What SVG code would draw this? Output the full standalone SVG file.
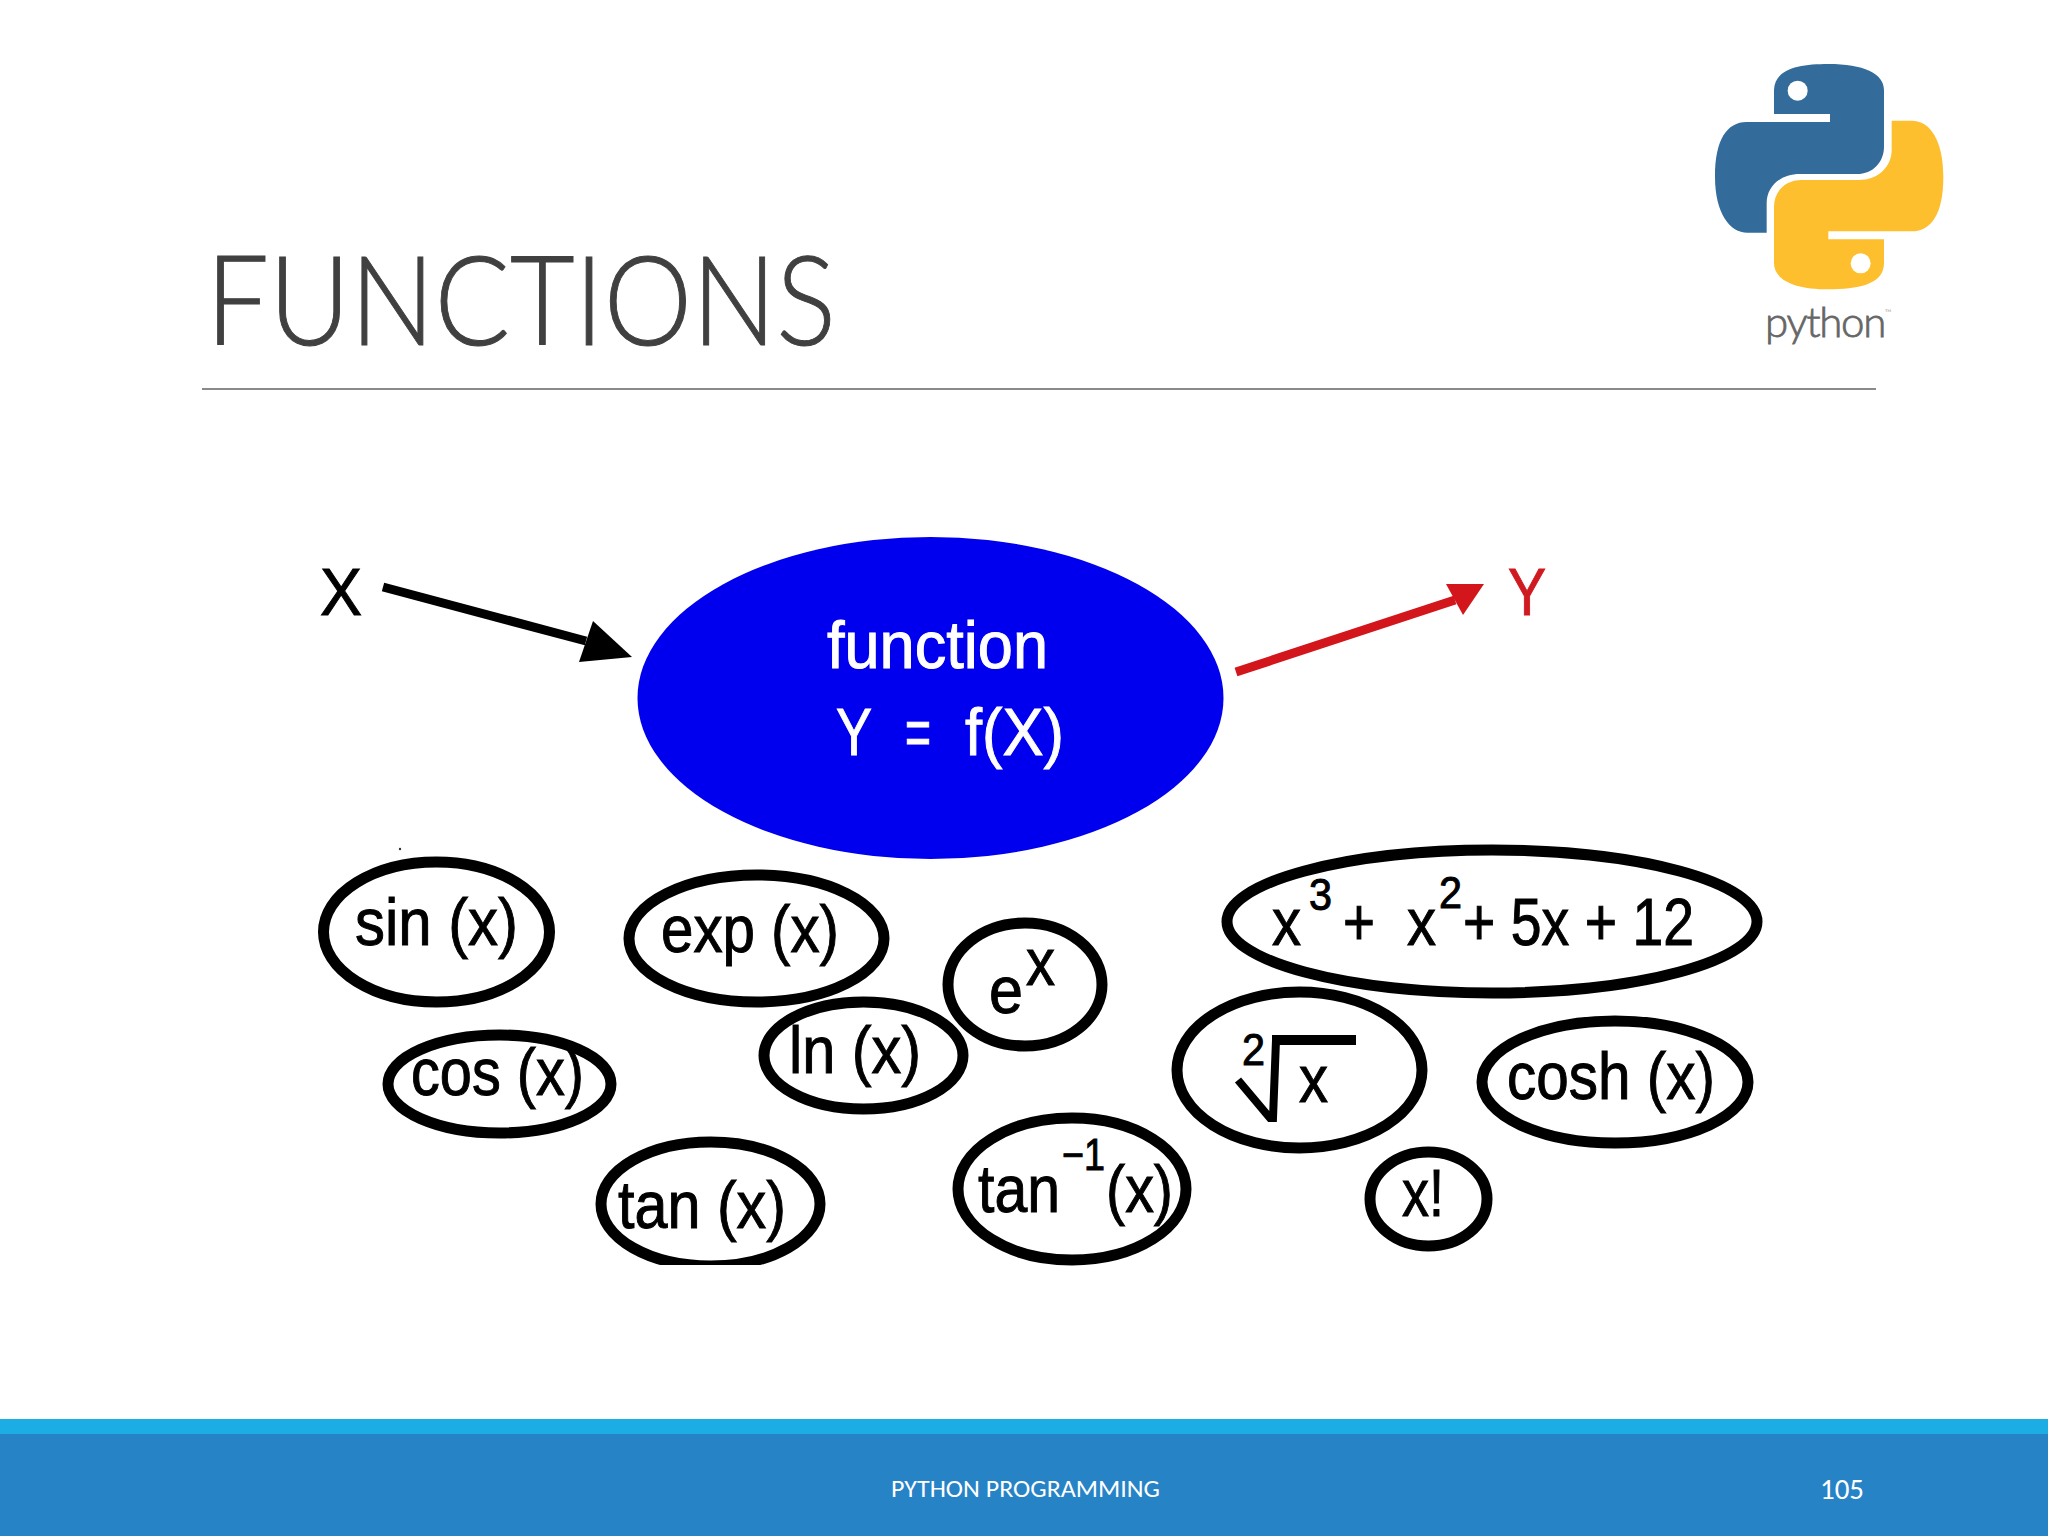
<svg xmlns="http://www.w3.org/2000/svg" width="2048" height="1536" viewBox="0 0 2048 1536">
<style>
.t{font-family:"Liberation Sans",Arial,sans-serif;font-size:66px;fill:#000;stroke:#000;stroke-width:1px}
.w{fill:#fff;stroke:#fff}
.r{fill:#cf1a20;stroke:#cf1a20}
.s{font-size:45px}
.o{fill:#fff;stroke:#000;stroke-width:11px}
.f{font-family:"Carlito","Lato","Noto Sans",sans-serif;fill:#fff}
</style>
<defs>
<marker id="headK" markerUnits="userSpaceOnUse" markerWidth="60" markerHeight="50" refX="0" refY="0" overflow="visible"><polygon points="7,-20 -7,21 46,16" fill="#000"/></marker>
<marker id="headR" markerUnits="userSpaceOnUse" markerWidth="50" markerHeight="40" refX="0" refY="0" overflow="visible"><polygon points="-9,-16 8,15 29,-16" fill="#d2161c"/></marker>
</defs>
<rect width="2048" height="1536" fill="#fff"/>
<g id="title">
<text x="206" y="345" font-family="Lato,'Noto Sans',sans-serif" font-weight="300" font-size="124" fill="#404040" stroke="#404040" stroke-width="1" textLength="630" lengthAdjust="spacingAndGlyphs">FUNCTIONS</text>
<line x1="202" y1="389" x2="1876" y2="389" stroke="#8a8a8a" stroke-width="2"/>
</g>
<g id="python-logo">
<g transform="translate(1660 40) scale(.33333)">
<path fill="#336b9b" d="M505 72C420 72 345 85 342 150L342 222L510 222L510 246L260 246C200 246 165 300 165 410C165 520 210 578 262 578L320 578L320 490C320 440 360 402 420 402L590 402C640 402 672 365 672 320L672 150C672 100 610 72 505 72Z"/>
<circle cx="413" cy="152" r="30" fill="#fff"/>
<path fill="#fdbf2d" d="M505 748C590 748 672 735 672 670L672 598L505 598L505 574L755 574C815 574 850 520 850 410C850 300 810 242 755 242L695 242L695 330C695 380 655 420 595 420L425 420C375 420 342 455 342 500L342 670C342 720 405 748 505 748Z"/>
<circle cx="602" cy="670" r="30" fill="#fff"/>
</g>
<text x="1765" y="337" font-family="Lato,'Noto Sans',sans-serif" font-weight="300" font-size="42" letter-spacing="-1.300" fill="#666" stroke="#666" stroke-width=".8">python<tspan font-size="9" dy="-21" stroke-width="0">™</tspan></text>
</g>
<g id="connectors">
<line x1="383" y1="587" x2="586" y2="641" stroke="#000" stroke-width="9" marker-end="url(#headK)"/>
<line x1="1236" y1="672" x2="1455" y2="600" stroke="#d2161c" stroke-width="9" marker-end="url(#headR)"/>
</g>
<g id="label-x"><text class="t" x="320" y="615" textLength="42" lengthAdjust="spacingAndGlyphs">X</text></g>
<g id="label-y"><text class="t r" x="1508" y="615" textLength="38" lengthAdjust="spacingAndGlyphs">Y</text></g>
<g id="function">
<ellipse cx="930.500" cy="698" rx="293" ry="161" fill="#0000ee"/>
<text class="t w" x="827" y="668" textLength="221" lengthAdjust="spacingAndGlyphs">function</text>
<text class="t w" x="836" y="755" textLength="36" lengthAdjust="spacingAndGlyphs">Y</text>
<text class="t w" x="905" y="755" textLength="26" lengthAdjust="spacingAndGlyphs">=</text>
<text class="t w" x="965" y="755" textLength="99" lengthAdjust="spacingAndGlyphs">f(X)</text>
</g>
<circle cx="400" cy="849" r="1.200" fill="#333"/>
<g id="sin"><ellipse class="o" cx="436.500" cy="932" rx="113" ry="70"/><text class="t" x="355" y="945" textLength="163" lengthAdjust="spacingAndGlyphs">sin (x)</text></g>
<g id="exp"><ellipse class="o" cx="756.500" cy="938.500" rx="127.500" ry="63.500"/><text class="t" x="661" y="952" textLength="178" lengthAdjust="spacingAndGlyphs">exp (x)</text></g>
<g id="ln"><ellipse class="o" cx="863.500" cy="1055.500" rx="99.500" ry="53.500"/><text class="t" x="789" y="1073" textLength="132" lengthAdjust="spacingAndGlyphs">ln (x)</text></g>
<g id="ex"><ellipse class="o" cx="1025" cy="984.500" rx="77" ry="61.500"/><text class="t" x="989" y="1013" textLength="34" lengthAdjust="spacingAndGlyphs">e</text><text class="t" x="1026" y="985" textLength="29" lengthAdjust="spacingAndGlyphs">x</text></g>
<g id="cos"><ellipse class="o" cx="499.500" cy="1084" rx="111.500" ry="49"/><text class="t" x="411" y="1095" textLength="173" lengthAdjust="spacingAndGlyphs">cos (x)</text></g>
<g id="tan"><ellipse class="o" cx="710.500" cy="1204" rx="109.500" ry="62"/><rect x="590" y="1265" width="240" height="20" fill="#fff"/><text class="t" x="618" y="1228" textLength="168" lengthAdjust="spacingAndGlyphs">tan (x)</text></g>
<g id="atan"><ellipse class="o" cx="1072" cy="1189" rx="114" ry="71"/><text class="t" x="978" y="1212" textLength="82" lengthAdjust="spacingAndGlyphs">tan</text><text class="t s" x="1062" y="1170" textLength="43" lengthAdjust="spacingAndGlyphs">−1</text><text class="t" x="1106" y="1212" textLength="67" lengthAdjust="spacingAndGlyphs">(x)</text></g>
<g id="poly"><ellipse class="o" cx="1492" cy="921.500" rx="265" ry="71.500"/>
<text class="t" x="1272" y="945" textLength="29" lengthAdjust="spacingAndGlyphs">x</text>
<text class="t s" x="1309" y="910" textLength="23" lengthAdjust="spacingAndGlyphs">3</text>
<text class="t" x="1343" y="945" textLength="32" lengthAdjust="spacingAndGlyphs">+</text>
<text class="t" x="1407" y="945" textLength="29" lengthAdjust="spacingAndGlyphs">x</text>
<text class="t s" x="1439" y="908" textLength="23" lengthAdjust="spacingAndGlyphs">2</text>
<text class="t" x="1463" y="945" textLength="231" lengthAdjust="spacingAndGlyphs">+ 5x + 12</text></g>
<g id="root"><ellipse class="o" cx="1299.500" cy="1070" rx="122.500" ry="78"/>
<text class="t s" x="1242" y="1065" textLength="23" lengthAdjust="spacingAndGlyphs">2</text>
<path d="M1238 1080L1270 1118L1273 1118L1276 1040" fill="none" stroke="#000" stroke-width="8"/>
<line x1="1272" y1="1040" x2="1356" y2="1040" stroke="#000" stroke-width="10"/>
<text class="t" x="1299" y="1102" textLength="29" lengthAdjust="spacingAndGlyphs">x</text></g>
<g id="cosh"><ellipse class="o" cx="1615" cy="1082" rx="133" ry="61"/><text class="t" x="1507" y="1099" textLength="208" lengthAdjust="spacingAndGlyphs">cosh (x)</text></g>
<g id="fact"><ellipse class="o" cx="1428.500" cy="1199" rx="58.500" ry="47"/><text class="t" x="1402" y="1216" textLength="42" lengthAdjust="spacingAndGlyphs">x!</text></g>
<g id="footer">
<rect x="0" y="1419" width="2048" height="15" fill="#1cade4"/>
<rect x="0" y="1434" width="2048" height="102" fill="#2683c6"/>
<text class="f" x="891" y="1497" font-size="24" textLength="269" lengthAdjust="spacingAndGlyphs">PYTHON PROGRAMMING</text>
<text class="f" x="1820" y="1499" font-size="28" textLength="44" lengthAdjust="spacingAndGlyphs">105</text>
</g>
</svg>
